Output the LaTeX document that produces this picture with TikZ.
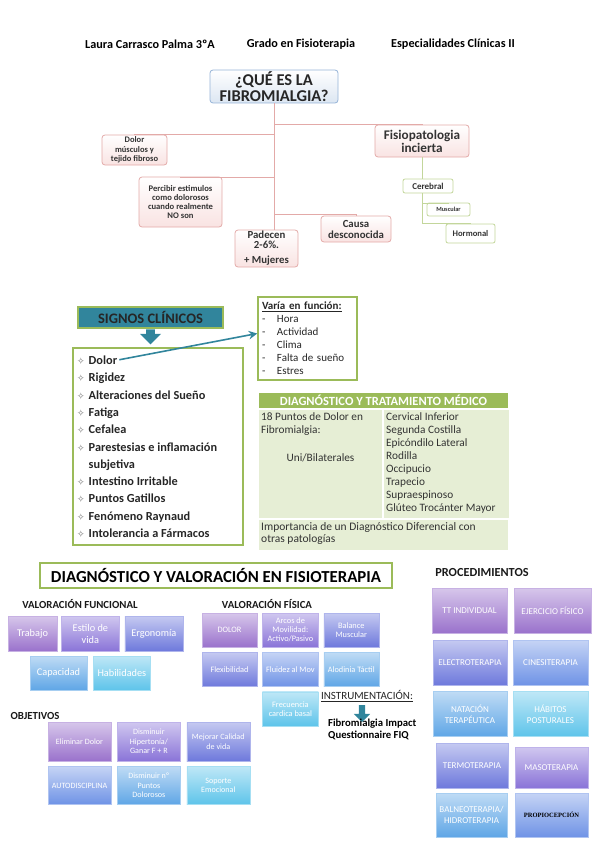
\documentclass[tikz,border=0pt]{standalone}
\usepackage{fontspec}
\setmainfont{Carlito}
\newfontfamily\symfont{DejaVu Sans}
\newfontfamily\serifp{Liberation Serif}
\usetikzlibrary{shapes.arrows, arrows.meta, positioning, shadows}

\definecolor{verdeoliva}{HTML}{9BBB59}
\definecolor{verdeclaro}{HTML}{E6EED5}
\definecolor{tealsc}{HTML}{31859C}
\definecolor{rosaborde}{HTML}{E3AAA8}
\definecolor{rosafondo}{HTML}{F9E3E2}
\definecolor{azulborde}{HTML}{95B3D7}
\definecolor{azulfondo}{HTML}{DCE6F2}
\definecolor{hojaverde}{HTML}{C3D69B}
\definecolor{violeta}{HTML}{9A72CC}
\definecolor{lila}{HTML}{8A74D8}
\definecolor{anil}{HTML}{6E79DC}
\definecolor{azulmed}{HTML}{6F93E6}
\definecolor{celeste}{HTML}{5FA6E6}
\definecolor{cian}{HTML}{5EC4EA}

\newcommand{\estrella}{{\symfont\fontsize{9}{9}\selectfont\color{black!55}\char"2727}\hspace{4pt}}

\begin{document}
\begin{tikzpicture}[
    x=1pt, y=-1pt,
    hdr/.style={font=\fontsize{12.2}{14}\selectfont\bfseries},
    titulo/.style={
        rectangle, rounded corners=3pt, draw=azulborde, thick,
        top color=white, bottom color=azulfondo,
        font=\fontsize{16.5}{16.5}\selectfont\bfseries, align=center, text=black!85
    },
    rama/.style={
        rectangle, rounded corners=3pt, draw=rosaborde, thick,
        top color=white, bottom color=rosafondo,
        font=\bfseries, align=center, text=black!80, inner sep=1pt
    },
    hoja/.style={
        rectangle, rounded corners=2pt, draw=hojaverde, thick,
        fill=white, text=black!80, inner sep=1pt
    },
    link/.style={draw=rosaborde, thick},
    glink/.style={draw=hojaverde, thick},
    marco/.style={rectangle, draw=verdeoliva, line width=2pt},
    celda/.style={rectangle, draw=white, line width=1pt, fill=verdeclaro, inner sep=0pt},
    ctext/.style={font=\fontsize{11.3}{13}\selectfont, align=left, inner sep=4pt, text=black!80},
    item/.style={font=\fontsize{12.3}{14}\selectfont\bfseries, inner sep=0pt, text=black!85},
    gbox/.style={
        rectangle, draw=#1!55!white, top color=#1!40!white, bottom color=#1,
        text=white, align=center, inner sep=1pt,
        drop shadow={shadow xshift=0.8pt, shadow yshift=-0.8pt, opacity=0.25}
    },
    funcbox/.style={gbox=#1, minimum height=35pt, font=\fontsize{10.3}{12}\selectfont},
    fisbox/.style={gbox=#1, minimum width=55pt, minimum height=34pt, font=\fontsize{8.3}{9}\selectfont},
    objbox/.style={gbox=#1, minimum width=63pt, minimum height=38pt, font=\fontsize{8.1}{9.5}\selectfont},
    procbox/.style={gbox=#1, minimum width=74pt, minimum height=45pt, font=\fontsize{9}{11}\selectfont},
    seccion/.style={font=\fontsize{10.8}{12}\selectfont\bfseries, text=black!90},
    flecha/.style={-{Stealth[length=3mm, width=3mm]}, line width=1.6pt, draw=tealsc},
    bloque/.style={
        single arrow, shape border rotate=270, fill=tealsc, draw=none,
        minimum height=15pt, inner sep=3.5pt, single arrow head extend=5pt
    }
]
\useasboundingbox (0,0) rectangle (599,848);

% Cabecera
\node[hdr] (autor) at (150,44) {Laura Carrasco Palma 3ºA};
\node[hdr] (grado) at (301,44) {Grado en Fisioterapia};
\node[hdr] (asig) at (453,44) {Especialidades Clínicas II};

% Mapa: que es la fibromialgia
\node[titulo, minimum width=128pt, minimum height=33pt, inner sep=1pt] (titulo) at (274,86.5) {¿QUÉ ES LA\\FIBROMIALGIA?};

\node[rama, minimum width=65pt, minimum height=30pt, font=\fontsize{8.5}{9.5}\selectfont\bfseries] (dolorm) at (134.5,150) {Dolor\\músculos y\\tejido fibroso};
\node[rama, minimum width=83pt, minimum height=50pt, font=\fontsize{8.6}{9}\selectfont\bfseries] (percibir) at (180.5,202) {Percibir estimulos\\como dolorosos\\cuando realmente\\NO son};
\node[rama, minimum width=63pt, minimum height=37pt, font=\fontsize{10.8}{10}\selectfont\bfseries] (padecen) at (266.5,248.5) {Padecen\\2-6\%.\\[5pt]+ Mujeres};
\node[rama, minimum width=70pt, minimum height=26pt, font=\fontsize{10.8}{11}\selectfont\bfseries] (causa) at (356,229) {Causa\\desconocida};
\node[rama, minimum width=94pt, minimum height=32pt, font=\fontsize{13.2}{13}\selectfont\bfseries] (fisio) at (422,141) {Fisiopatologia\\incierta};

\node[hoja, minimum width=50pt, minimum height=14pt, font=\fontsize{9}{9}\selectfont\bfseries] (cerebral) at (428,186) {Cerebral};
\node[hoja, minimum width=43pt, minimum height=13pt, font=\fontsize{6.3}{7}\selectfont\bfseries] (muscular) at (448.5,209.5) {Muscular};
\node[hoja, minimum width=49pt, minimum height=19pt, font=\fontsize{8.6}{9}\selectfont\bfseries] (hormonal) at (470.5,233.5) {Hormonal};

% Ramas
\draw[link] (titulo.south) -- (titulo.south |- padecen.north);
\draw[link] (titulo.south |- 0,124) -| (fisio.north);
\draw[link] (titulo.south |- 0,134) -| (dolorm.north);
\draw[link] (titulo.south |- 0,177) -| (percibir.north);
\draw[link] (titulo.south |- 0,214) -| (causa.north);

\draw[glink] (fisio.south) -- (fisio.south |- cerebral.north);
\draw[glink] (fisio.south |- cerebral.south) -- (fisio.south |- 0,223);
\draw[glink] (fisio.south |- 0,203) -| (muscular.north);
\draw[glink] (fisio.south |- 0,223) -| (hormonal.north);

% Signos clinicos
\node[rectangle, fill=tealsc, draw=verdeoliva, line width=1.5pt, minimum width=145pt, minimum height=21pt,
      font=\fontsize{14.5}{15}\selectfont\bfseries, text=black!85] (signos) at (150.5,317.5) {SIGNOS CLÍNICOS};
\node[bloque, minimum width=21pt, below=0.5pt of signos] (sflecha) {};

\node[marco, minimum width=170pt, minimum height=197pt] (signlist) at (158,446.5) {};
\foreach \t/\y [count=\i] in {
    {\estrella Dolor}/364,
    {\estrella Rigidez}/381,
    {\estrella Alteraciones del Sueño}/399,
    {\estrella Fatiga}/416,
    {\estrella Cefalea}/433,
    {\estrella Parestesias e inflamación}/451,
    {\hphantom{\estrella}subjetiva}/468,
    {\estrella Intestino Irritable}/485,
    {\estrella Puntos Gatillos}/502,
    {\estrella Fenómeno Raynaud}/520,
    {\estrella Intolerancia a Fármacos}/537}
    \node[item, anchor=base west] (s\i) at (77,\y) {\t};

% Varia en funcion
\node[marco, line width=1.5pt, fill=white, minimum width=99pt, minimum height=83pt,
      text width=91pt, align=left, font=\fontsize{11}{13}\selectfont, text=black!85] (varia) at (307.5,338.5)
      {\textbf{\underline{Varía en función:}}\\
       \makebox[15pt][l]{-}Hora\\
       \makebox[15pt][l]{-}Actividad\\
       \makebox[15pt][l]{-}Clima\\
       \makebox[15pt][l]{-}Falta de sueño\\
       \makebox[15pt][l]{-}Estres};
\draw[flecha] ([xshift=2pt]s1.east) -- ([yshift=5pt]varia.west);

% Diagnostico y tratamiento medico
\node[celda, fill=verdeoliva, anchor=north west, minimum width=250pt, minimum height=16pt,
      font=\fontsize{12.5}{12}\selectfont\bfseries, text=white] (dxhead) at (258,392) {DIAGNÓSTICO Y TRATAMIENTO MÉDICO};
\node[celda, anchor=north west, minimum width=124pt, minimum height=109pt] (pleft) at (dxhead.south west) {};
\node[celda, anchor=north west, minimum width=126pt, minimum height=109pt] (pright) at (pleft.north east) {};
\node[celda, anchor=north west, minimum width=250pt, minimum height=31pt] (pbottom) at (pleft.south west) {};

\node[ctext, anchor=north west, inner sep=3pt] (puntos) at (pleft.north west) {18 Puntos de Dolor en\\Fibromialgia:};
\node[ctext] (unibil) at ([yshift=-49pt]pleft.north) {Uni/Bilaterales};
\node[ctext, anchor=north west, inner sep=3pt] (zonas) at (pright.north west)
      {Cervical Inferior\\Segunda Costilla\\Epicóndilo Lateral\\Rodilla\\Occipucio\\Trapecio\\Supraespinoso\\Glúteo Trocánter Mayor};
\node[ctext, font=\fontsize{11.5}{12}\selectfont, anchor=north west, inner sep=3pt] (difer) at (pbottom.north west)
      {Importancia de un Diagnóstico Diferencial con\\otras patologías};

% Diagnostico y valoracion en fisioterapia
\node[marco, minimum width=352pt, minimum height=25pt, font=\fontsize{16.8}{18}\selectfont\bfseries] (dvfisio) at (216,575.5)
      {DIAGNÓSTICO Y VALORACIÓN EN FISIOTERAPIA};

\node[seccion] (vfunc) at (80,604) {VALORACIÓN FUNCIONAL};
\node[seccion] (vfis) at (267,604) {VALORACIÓN FÍSICA};
\node[seccion, anchor=west] (objet) at (7,716) {OBJETIVOS};
\node[seccion, font=\fontsize{12.3}{13}\selectfont\bfseries] (proced) at (482,573) {PROCEDIMIENTOS};

% Valoracion funcional
\node[funcbox=violeta, minimum width=49pt] (trabajo) at (32.5,633.5) {Trabajo};
\node[funcbox=lila, minimum width=58pt, right=4pt of trabajo] (estilo) {Estilo de\\vida};
\node[funcbox=anil, minimum width=58pt, right=5pt of estilo] (ergo) {Ergonomía};
\node[funcbox=celeste, minimum width=57pt, minimum height=34pt] (capac) at (58.5,673) {Capacidad};
\node[funcbox=cian, minimum width=57pt, minimum height=34pt, right=6pt of capac] (habil) {Habilidades};

% Valoracion fisica
\node[fisbox=violeta] (vdolor) at (229.5,630) {DOLOR};
\node[fisbox=lila, minimum width=56pt, right=5pt of vdolor] (arcos) {Arcos de\\Movilidad:\\Activo/Pasivo};
\node[fisbox=anil, right=5pt of arcos] (balance) {Balance\\Muscular};
\node[fisbox=anil, below=5pt of vdolor] (flexi) {Flexibilidad};
\node[fisbox=azulmed, minimum width=56pt, below=5pt of arcos] (fluidez) {Fluidez al Mov};
\node[fisbox=celeste, below=5pt of balance] (alodinia) {Alodinia Táctil};
\node[fisbox=cian, minimum width=56pt, below=5pt of fluidez] (frec) {Frecuencia\\cardica basal};

% Instrumentacion
\node[font=\fontsize{11}{12}\selectfont, text=black!85] (instr) at (367,696) {\underline{INSTRUMENTACIÓN:}};
\node[bloque, minimum width=16pt, inner sep=3pt, minimum height=17pt] (iflecha) at (362,712) {};
\node[font=\fontsize{10.7}{12}\selectfont\bfseries, align=left, anchor=north west, inner sep=0pt] (fiq) at (328,719)
      {Fibromialgia Impact\\Questionnaire FIQ};

% Objetivos
\node[objbox=violeta, minimum height=39pt] (elimdolor) at (79.5,741.5) {Eliminar Dolor};
\node[objbox=lila, minimum height=39pt, right=6pt of elimdolor] (hiperton) {Disminuir\\Hipertonía/\\Ganar F + R};
\node[objbox=anil, minimum height=39pt, right=6pt of hiperton] (calidad) {Mejorar Calidad\\de vida};
\node[objbox=azulmed, below=5pt of elimdolor] (autodisc) {AUTODISCIPLINA};
\node[objbox=celeste, below=5pt of hiperton] (npuntos) {Disminuir nº\\Puntos\\Dolorosos};
\node[objbox=cian, below=5pt of calidad] (soporte) {Soporte\\Emocional};

% Procedimientos
\node[procbox=violeta, minimum width=75pt] (ttind) at (469.5,610.5) {TT INDIVIDUAL};
\node[procbox=violeta, minimum width=77pt] (ejerc) at (552.5,610.5) {EJERCICIO FÍSICO};
\node[procbox=anil] (electro) at (470,662.5) {ELECTROTERAPIA};
\node[procbox=azulmed, minimum width=75pt] (cinesi) at (550.5,662.5) {CINESITERAPIA};
\node[procbox=celeste] (natacion) at (470,714) {NATACIÓN\\TERAPÉUTICA};
\node[procbox=cian, minimum width=75pt] (habitos) at (550.5,714) {HÁBITOS\\POSTURALES};
\node[procbox=anil, minimum width=72pt] (termo) at (472,765.5) {TERMOTERAPIA};
\node[procbox=lila, minimum width=73pt, minimum height=41pt] (maso) at (551.5,767.5) {MASOTERAPIA};
\node[procbox=celeste, minimum width=71pt, minimum height=44pt] (balneo) at (471.5,815) {BALNEOTERAPIA/\\HIDROTERAPIA};
\node[procbox=azulmed, minimum width=73pt, minimum height=44pt, text=black, font=\serifp\fontsize{6.5}{7}\selectfont\bfseries] (propio) at (551.5,815) {PROPIOCEPCIÓN};

\end{tikzpicture}
\end{document}
